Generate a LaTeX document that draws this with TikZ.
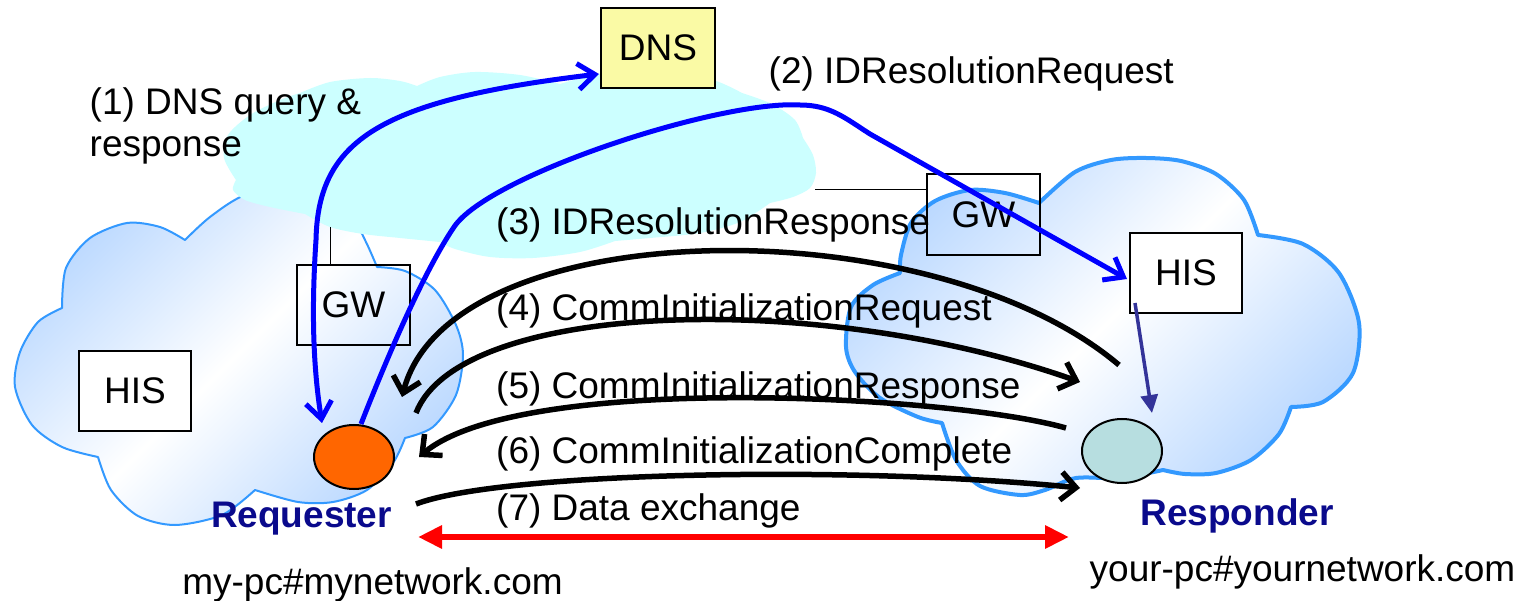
\documentclass[tikz,border=0pt]{standalone}
\usepackage{fontspec}
\setmainfont{Liberation Sans}
\usetikzlibrary{arrows.meta,shapes.geometric}
\definecolor{cloudedge}{RGB}{51,153,255}
\definecolor{cloudtint}{RGB}{186,216,255}
\definecolor{skycyan}{RGB}{204,255,255}
\definecolor{dnsfill}{RGB}{250,250,165}
\definecolor{reqfill}{RGB}{255,102,0}
\definecolor{respfill}{RGB}{183,222,224}
\definecolor{linkblue}{RGB}{0,0,255}
\definecolor{hisnavy}{RGB}{51,51,153}
\definecolor{namenavy}{RGB}{10,10,140}
\definecolor{xred}{RGB}{255,0,0}
\begin{document}
\begin{tikzpicture}[x=1pt,y=-1pt,
  every node/.style={font=\fontsize{37}{44}\selectfont, inner sep=0pt},
  box/.style={draw=black, line width=2pt, minimum width=113pt, minimum height=80pt},
  host/.style={ellipse, draw=black, line width=2pt, minimum width=80pt, minimum height=64pt},
  lbl/.style={anchor=base west},
  hostname/.style={anchor=base, font=\fontsize{37}{44}\selectfont\bfseries, text=namenavy},
  netcloud/.style={draw=cloudedge, top color=cloudtint, bottom color=cloudtint,
    middle color=white, shading angle=45, line join=round},
  query/.style={draw=linkblue, line width=5pt},
  bluetip/.style={-{Straight Barb[length=17pt,width=26pt]}},
  msg/.style={draw=black, line width=5.5pt, -{Straight Barb[length=15pt,width=28pt]}},
  link/.style={draw=black, line width=1pt},
  datax/.style={draw=xred, line width=6pt,
    {Triangle[length=24pt,width=22pt]}-{Triangle[length=24pt,width=22pt]}},
  lookup/.style={draw=hisnavy, line width=3.5pt, -{Triangle[length=18pt,width=17pt]}}
]
\fill[white] (0,0) rectangle (1521,601);
\useasboundingbox (0,0) rectangle (1521,601);

% requester's network
\path[netcloud, line width=2pt] (62,308)
 -- plot[smooth] coordinates {(62,308) (66,268) (90,238) (127,223) (160,227) (185,240)}
 -- plot[smooth] coordinates {(185,240) (210,217) (245,195) (300,183) (345,205) (365,240) (377,267)}
 -- plot[smooth] coordinates {(377,267) (405,271) (435,290) (456,325) (463,355) (456,395) (433,427) (405,438)}
 -- plot[smooth] coordinates {(405,438) (393,463) (367,490) (333,502) (298,502) (255,490)}
 -- plot[smooth] coordinates {(255,490) (222,515) (175,525) (138,516) (111,490) (98,457)}
 -- plot[smooth] coordinates {(98,457) (62,447) (32,425) (15,387) (20,352) (38,322) (62,308)}
 -- cycle;

% responder's network
\path[netcloud, line width=4pt] (900,273)
 -- plot[smooth] coordinates {(900,273) (901,255) (911,223) (935,201) (970,190) (1005,193) (1039,203)}
 -- plot[smooth] coordinates {(1039,203) (1075,172) (1111,160) (1146,158) (1181,161) (1216,174) (1244,200) (1258,235)}
 -- plot[smooth] coordinates {(1258,235) (1303,244) (1339,273) (1359,323) (1353,373) (1323,402) (1291,407)}
 -- plot[smooth] coordinates {(1291,407) (1279,434) (1251,460) (1216,473) (1185,474) (1163,470)}
 -- plot[smooth] coordinates {(1163,470) (1120,478) (1076,478) (1045,490) (1020,495) (980,486) (956,460) (942,423)}
 -- plot[smooth] coordinates {(942,423) (918,417) (880,398) (855,372) (846,347) (851,307) (873,285) (900,273)}
 -- cycle;

% the Internet
\fill[skycyan] (236,180)
 -- plot[smooth] coordinates {(236,180) (224,158) (228,135) (250,115) (280,100) (300,93)}
 -- plot[smooth] coordinates {(300,93) (330,82) (370,78) (400,81) (417,86)}
 -- plot[smooth] coordinates {(417,86) (440,77) (475,72) (520,75) (560,84)}
 -- plot[smooth] coordinates {(560,84) (600,74) (660,70) (713,80) (742,93)}
 -- plot[smooth] coordinates {(742,93) (772,104) (795,120) (803,138)}
 -- plot[smooth] coordinates {(803,138) (813,155) (816,173) (810,188) (793,197) (770,203)}
 -- plot[smooth] coordinates {(770,203) (740,222) (700,233) (650,238) (615,241)}
 -- plot[smooth] coordinates {(615,241) (580,252) (533,258) (490,257) (455,249) (440,242)}
 -- plot[smooth] coordinates {(440,242) (400,238) (363,234) (330,227) (305,214)}
 -- plot[smooth] coordinates {(305,214) (270,207) (245,200) (233,190) (236,180)}
 -- cycle;
\coordinate (netL) at (330,227);
\coordinate (netR) at (815,190);

% boxes and hosts
\node[box, fill=dnsfill, minimum width=114pt] (dns) at (658,48) {DNS};
\node[box] (gwL) at (353.5,305) {GW};
\node[box, fill=white, minimum width=112pt] (hisL) at (135,391) {HIS};
\node[box, minimum height=81pt] (gwR) at (983.5,214.5) {GW};
\node[box, fill=white, minimum width=112pt] (hisR) at (1186,273) {HIS};
\node[host, fill=reqfill] (req) at (354,457) {};
\node[host, fill=respfill] (resp) at (1122,451) {};

% gateway uplinks
\draw[link] (netL) -- (netL |- gwL.north);
\draw[link] (netR) -- (netR -| gwR.west);

% end points of the message arrows
\coordinate (reqTip) at (322,423);
\coordinate (dnsIn) at (599,74);
\coordinate (hisIn) at (1127,279);
\coordinate (m3a) at (1119,365);
\coordinate (m3b) at (402,397);
\coordinate (m4a) at (416,413);
\coordinate (m4b) at (1080,382);
\coordinate (m5a) at (1066,428);
\coordinate (m5b) at (419,457);
\coordinate (m6a) at (416,504);
\coordinate (m6b) at (1080,488);
\coordinate (m7a) at (418,537);
\coordinate (m7b) at (1069,537);
\coordinate (hisOut) at (1135,303);
\coordinate (respIn) at (1152,413);

% (1) DNS query and response
\draw[query, {Straight Barb[length=17pt,width=26pt]}-{Straight Barb[length=17pt,width=26pt]}]
  (reqTip) .. controls (312,360) and (312,300) .. (316,240)
  .. controls (318,140) and (380,100) .. (dnsIn);
% (2) ID resolution request
\draw[query, bluetip] ([xshift=7pt]req.north) .. controls (390,350) and (425,270) .. (454,227)
  .. controls (489,175) and (720,100) .. (800,105)
  .. controls (830,105) and (845,118) .. (870,134) -- (hisIn);
% (3)-(6) signalling
\draw[msg] (m3a) .. controls (930,205) and (450,212) .. (m3b);
\draw[msg] (m4a) .. controls (460,300) and (820,290) .. (m4b);
\draw[msg] (m5a) .. controls (950,395) and (520,372) .. (m5b);
\draw[msg] (m6a) .. controls (500,472) and (850,465) .. (m6b);
% (7) data exchange
\draw[datax] (m7a) -- (m7b);
% HIS to responder
\draw[lookup] (hisOut) -- (respIn);

% labels
\node[lbl] (t1a) at (89.5,115) {(1) DNS query \&};
\node[lbl] (t1b) at (89.5,157) {response};
\node[lbl] (t2) at (768.5,84) {(2) IDResolutionRequest};
\node[lbl] (t3) at (496,235) {(3) IDResolutionResponse};
\node[lbl] (t4) at (496,321) {(4) CommInitializationRequest};
\node[lbl] (t5) at (496,399) {(5) CommInitializationResponse};
\node[lbl] (t6) at (496,464) {(6) CommInitializationComplete};
\node[lbl] (t7) at (496,520) {(7) Data exchange};

\node[hostname] (reqname) at (301.5,527) {Requester};
\node[hostname] (respname) at (1237,525) {Responder};
\node[anchor=base] (reqaddr) at (372.5,594) {my-pc\#mynetwork.com};
\node[anchor=base] (respaddr) at (1302.5,581) {your-pc\#yournetwork.com};
\end{tikzpicture}
\end{document}
